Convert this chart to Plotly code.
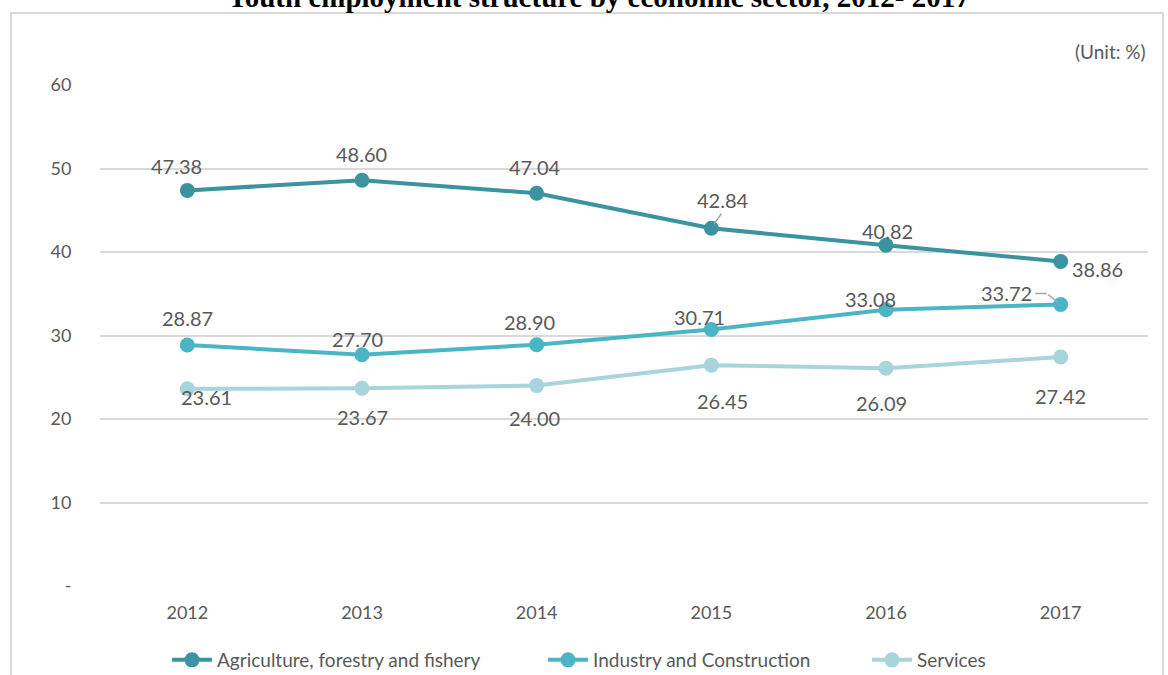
import plotly.graph_objects as go

years = ["2012", "2013", "2014", "2015", "2016", "2017"]
agri = [47.38, 48.60, 47.04, 42.84, 40.82, 38.86]
indus = [28.87, 27.70, 28.90, 30.71, 33.08, 33.72]
serv = [23.61, 23.67, 24.00, 26.45, 26.09, 27.42]
y_ticks = [0, 10, 20, 30, 40, 50, 60]
y_tick_text = ["-", "10", "20", "30", "40", "50", "60"]

names = ["Agriculture, forestry and fishery", "Industry and Construction", "Services"]
colors = ["#3a939e", "#4ab5c5", "#a8d4db"]
series = [agri, indus, serv]
legend_ids = ["legend", "legend2", "legend3"]
legend_px = [167, 543, 867]

# label offsets (pixels) per series/point
offsets = [
    [(-11, 24), (-1, 26), (-2, 26), (12, 28), (1, 14), (37, -7)],
    [(0, 27), (-5, 16), (-7, 23), (-12, 13), (-16, 11), (-54, 11)],
    [(19, -8), (0, -29), (-2, -32), (11, -36), (-5, -35), (0, -39)],
]

FONT = "Lato"
fig = go.Figure()
for i, (nm, vals, col) in enumerate(zip(names, series, colors)):
    fig.add_trace(go.Scatter(
        x=years, y=vals, name=nm, mode="lines+markers",
        line=dict(color=col, width=4),
        marker=dict(color=col, size=15),
        legend=legend_ids[i],
    ))

annotations = []
for i, vals in enumerate(series):
    for j, v in enumerate(vals):
        dx, dy = offsets[i][j]
        annotations.append(dict(
            x=j, y=v, xref="x", yref="y", text=f"{v:.2f}",
            showarrow=False, xshift=dx, yshift=dy,
            font=dict(family=FONT, size=20, color="#595959"),
        ))

# leader lines
annotations.append(dict(
    x=3, y=agri[3], xref="x", yref="y", text="", showarrow=True,
    arrowhead=0, arrowwidth=1.5, arrowcolor="#a6a6a6", ax=11, ay=-16, standoff=5,
))
annotations.append(dict(
    x=5, y=indus[5], xref="x", yref="y", text="", showarrow=True,
    arrowhead=0, arrowwidth=1.5, arrowcolor="#a6a6a6", ax=-14, ay=-11, standoff=4,
))
annotations.append(dict(
    x=5, y=indus[5], xref="x", yref="y", text="", showarrow=True,
    arrowhead=0, arrowwidth=1.5, arrowcolor="#a6a6a6", ax=-13, ay=0,
    xshift=-14, yshift=11,
))

annotations.append(dict(
    x=1.0, y=1.0, xref="paper", yref="paper", xanchor="right", yanchor="middle",
    yshift=34, text="(Unit: %)", showarrow=False,
    font=dict(family=FONT, size=19, color="#595959"),
))
annotations.append(dict(
    x=(598 - 100) / 1048, y=1.0, xref="paper", yref="paper", xanchor="center", yanchor="middle",
    yshift=88, text="<b>Youth employment structure by economic sector, 2012- 2017</b>",
    showarrow=False, font=dict(family="Liberation Serif", size=29, color="#000000"),
))

layout_legends = {}
for lid, px in zip(legend_ids, legend_px):
    layout_legends[lid] = dict(
        orientation="h", x=(px - 100) / 1048, xanchor="left",
        y=(586 - 660) / 501, yanchor="middle",
        font=dict(family=FONT, size=19, color="#595959"),
        itemwidth=40, bgcolor="rgba(0,0,0,0)",
    )

fig.update_layout(
    width=1168, height=675,
    margin=dict(l=100, r=20, t=85, b=89, autoexpand=False),
    paper_bgcolor="white", plot_bgcolor="white",
    showlegend=True,
    annotations=annotations,
    shapes=[dict(type="rect", xref="paper", yref="paper",
                 x0=(11 - 100) / 1048, x1=(1163 - 100) / 1048,
                 y0=(586 - 700) / 501, y1=(586 - 13) / 501,
                 line=dict(color="#d9d9d9", width=2), layer="below")],
    **layout_legends,
)
fig.update_xaxes(
    type="category", range=[-0.5, 5.5], showgrid=False, zeroline=False, showline=False,
    tickfont=dict(family=FONT, size=18, color="#595959"),
    ticks="outside", ticklen=10, tickcolor="rgba(0,0,0,0)",
)
fig.update_yaxes(
    range=[0, 60], tickvals=y_ticks, ticktext=y_tick_text,
    showgrid=True, gridcolor="#d9d9d9", gridwidth=1.5, zeroline=False, showline=False,
    tickfont=dict(family=FONT, size=18, color="#595959"),
    ticks="outside", ticklen=24, tickcolor="rgba(0,0,0,0)",
)
fig.write_html("out.html")
